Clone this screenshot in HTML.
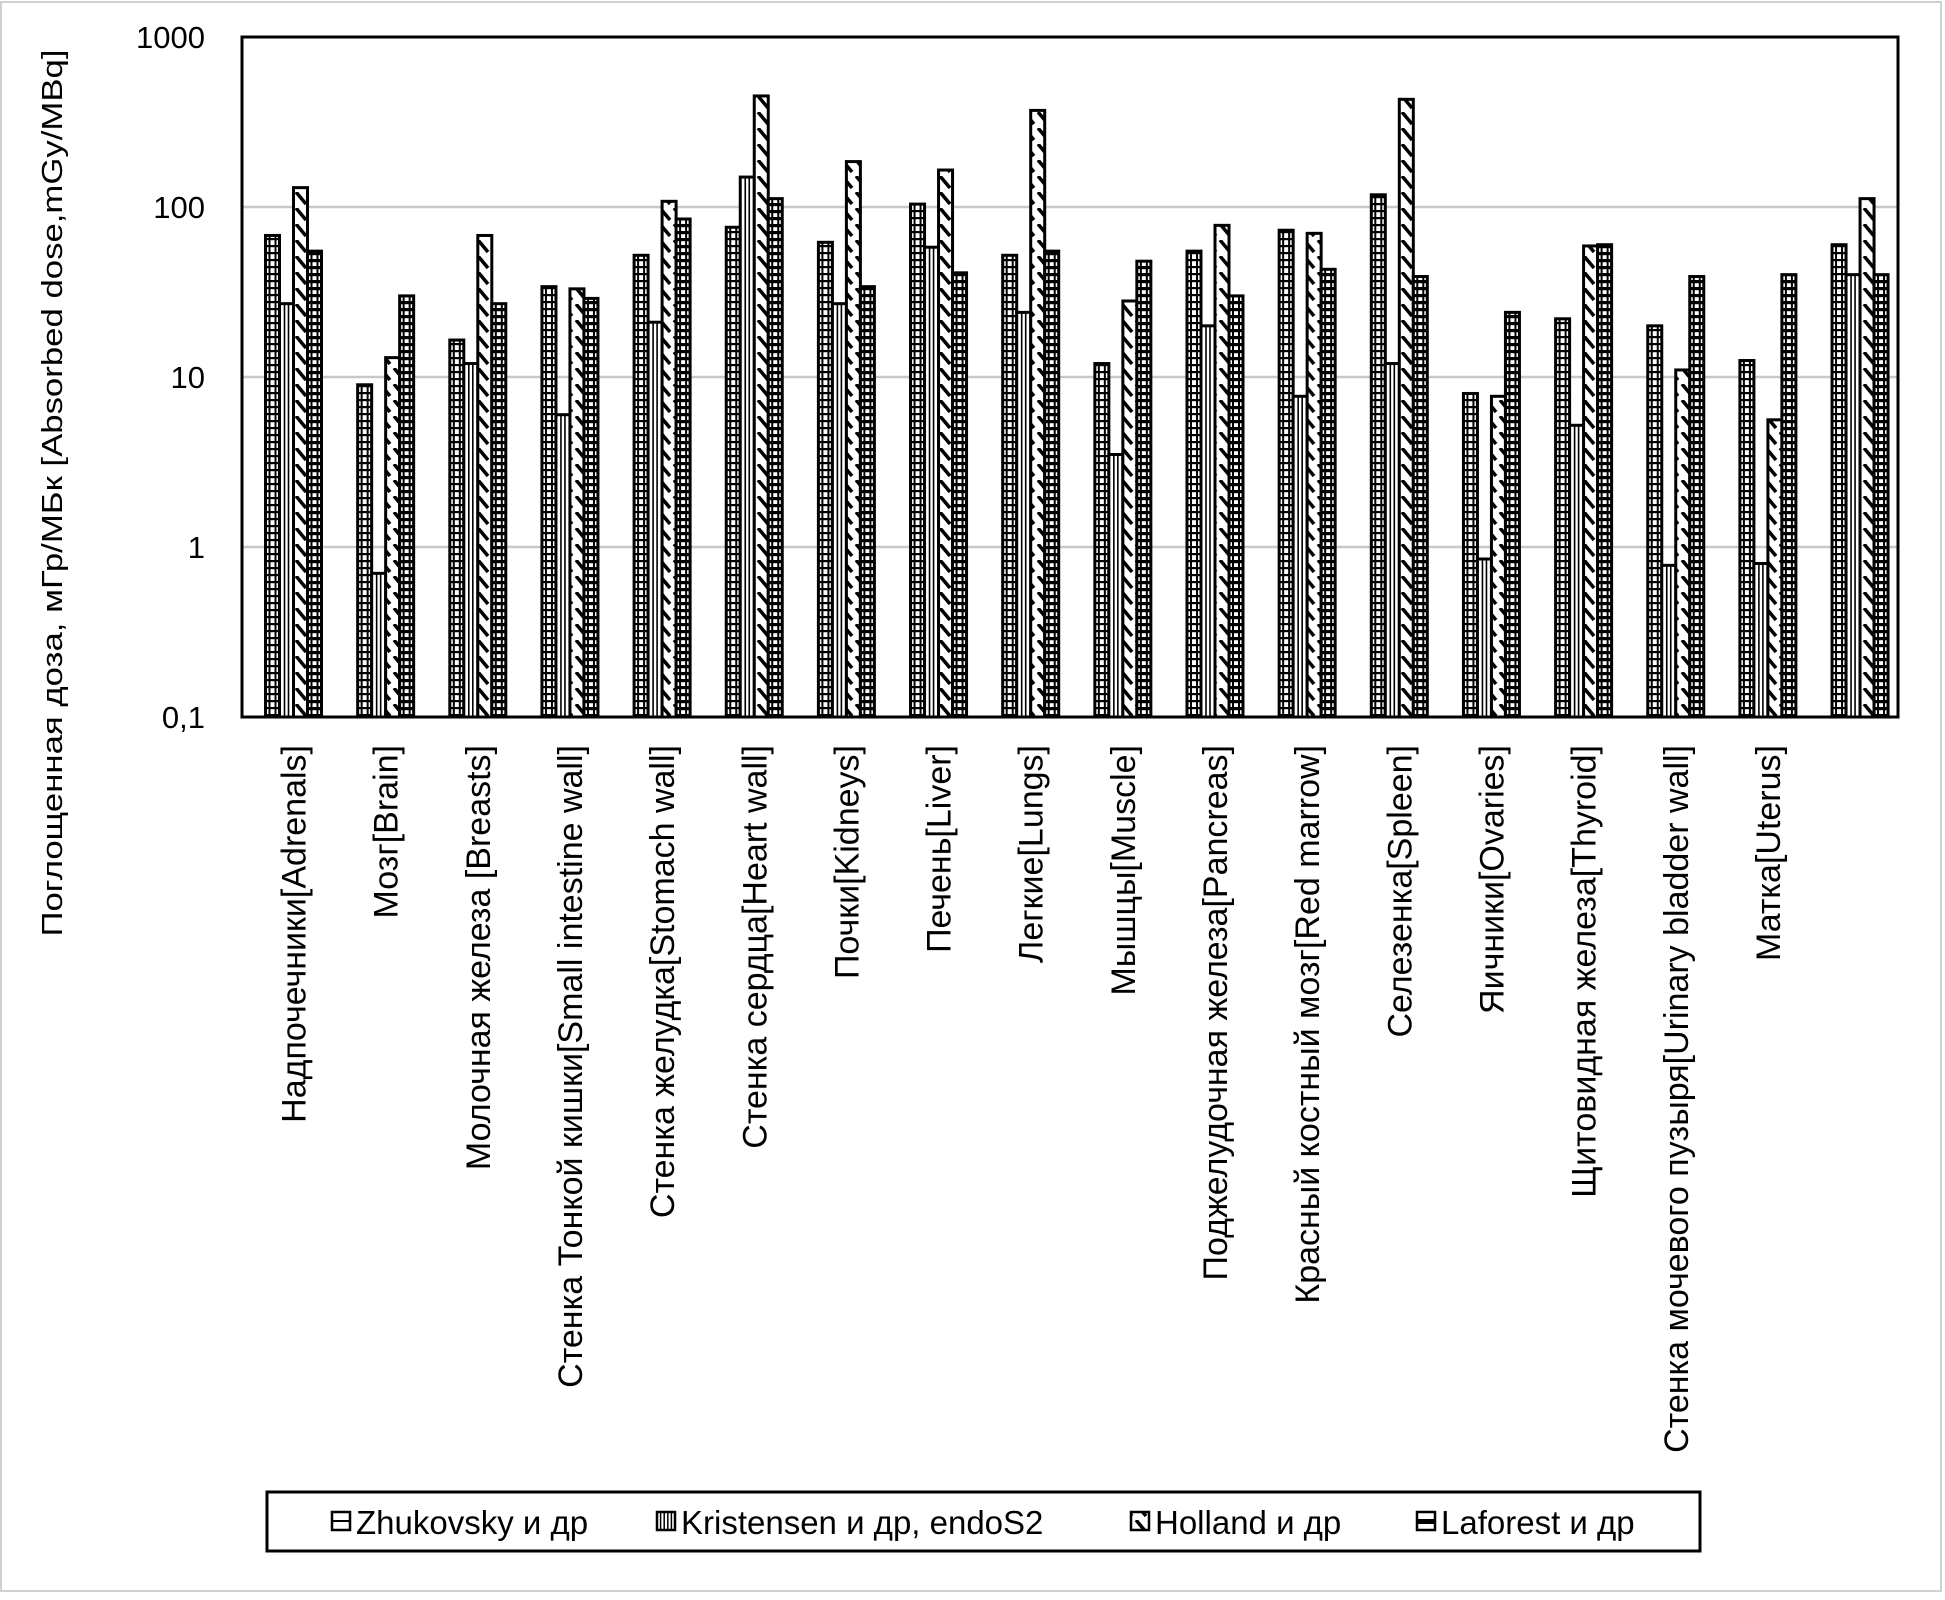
<!DOCTYPE html>
<html><head><meta charset="utf-8"><style>
html,body{margin:0;padding:0;background:#fff;}
svg{display:block;}
text{font-family:"Liberation Sans","DejaVu Sans",sans-serif;fill:#000;}
</style></head><body>
<svg id="chart" width="1945" height="1600" viewBox="0 0 1945 1600">
<defs>
<pattern id="p-horiz" patternUnits="userSpaceOnUse" width="20" height="7"><rect width="20" height="7" fill="#fff"/><rect y="0" width="20" height="2.2" fill="#000"/></pattern>
<pattern id="p-horiz-bold" patternUnits="userSpaceOnUse" width="20" height="7"><rect width="20" height="7" fill="#fff"/><rect y="0" width="20" height="3.2" fill="#000"/></pattern>
<pattern id="p-diag" patternUnits="userSpaceOnUse" width="14" height="16"><rect width="14" height="16" fill="#fff"/><path d="M2,0 L12,12" stroke="#000" stroke-width="3.5"/></pattern>
</defs>
<rect x="1" y="2" width="1940" height="1589" fill="#fff" stroke="#d0d0d0" stroke-width="2"/>
<g id="grid"></g>
<g id="bars"></g>
<rect x="242" y="37" width="1656" height="680" fill="none" stroke="#000" stroke-width="3"/>
<g id="yticks"></g>
<g id="xlabels"></g>
<text x="0" y="0" transform="translate(62,493) rotate(-90)" text-anchor="middle" font-size="29" textLength="887" lengthAdjust="spacingAndGlyphs">Поглощенная доза, мГр/МБк [Absorbed dose,mGy/MBq]</text>
<g>
<rect x="267" y="1492" width="1433" height="59" fill="#fff" stroke="#000" stroke-width="3"/>
<g id="legend-items"></g>
</g>
</svg>
<script>
const categories = ["Надпочечники[Adrenals]","Мозг[Brain]","Молочная железа [Breasts]","Стенка Тонкой кишки[Small intestine wall]","Стенка желудка[Stomach wall]","Стенка сердца[Heart wall]","Почки[Kidneys]","Печень[Liver]","Легкие[Lungs]","Мышцы[Muscle]","Поджелудочная железа[Pancreas]","Красный костный мозг[Red marrow]","Селезенка[Spleen]","Яичники[Ovaries]","Щитовидная железа[Thyroid]","Стенка мочевого пузыря[Urinary bladder wall]","Матка[Uterus]",""];
const seriesNames = ["Zhukovsky и др","Kristensen и др, endoS2","Holland и др","Laforest  и др"];
const zhukovsky = [68,9,16.5,34,52,76,62,104,52,12,55,73,118,8,22,20,12.5,60];
const kristensen = [27,0.7,12,6,21,150,27,58,24,3.5,20,7.7,12,0.85,5.2,0.78,0.8,40];
const holland = [130,13,68,33,108,450,185,165,370,28,78,70,430,7.7,59,11,5.6,112];
const laforest = [55,30,27,29,85,112,34,41,55,48,30,43,39,24,60,39,40,40];
const yTicks = [0.1,1,10,100,1000];
const yTickLabels = ["0,1","1","10","100","1000"];

const NS="http://www.w3.org/2000/svg";
const plotL=242, plotR=1898, plotT=37, plotB=717;
const firstCenter=293.5, step=92.15, barW=14;
function yScale(v){ return plotB - (Math.log10(v)+1)/4*(plotB-plotT); }
function xCenter(i){ return firstCenter + i*step; }
function mk(tag, attrs, parent){ const e=document.createElementNS(NS,tag); for(const k in attrs) e.setAttribute(k,attrs[k]); parent.appendChild(e); return e; }

const grid=document.getElementById('grid'), yt=document.getElementById('yticks');
yTicks.forEach((t,i)=>{
  const y=yScale(t);
  if(i>0 && i<yTicks.length-1){
    const l=mk('line',{x1:plotL,x2:plotR,y1:y,y2:y,stroke:'#c8c8c8','stroke-width':2.5},grid);
    
    
  }
  const tx=mk('text',{x:205,y:y+11,'text-anchor':'end','font-size':31,'font-family':'"DejaVu Sans",sans-serif'},yt);
  tx.textContent=yTickLabels[i];
  
  
});

const bars=document.getElementById('bars');
const allSeries=[zhukovsky,kristensen,holland,laforest];
function drawBar(s, x, top){
  const h=plotB-top;
  const fills=['url(#p-horiz)','#fff','url(#p-diag)','url(#p-horiz-bold)'];
  const g=mk('g',{},bars);
  
  
  mk('rect',{x:x,y:top,width:barW,height:h,fill:fills[s]},g);
  if(s===0||s===3){
    mk('line',{x1:x+4,x2:x+4,y1:top,y2:plotB,stroke:'#000','stroke-width':2},g);
    mk('line',{x1:x+barW-4,x2:x+barW-4,y1:top,y2:plotB,stroke:'#000','stroke-width':2},g);
  } else if(s===1){
    mk('line',{x1:x+5,x2:x+5,y1:top,y2:plotB,stroke:'#000','stroke-width':1.6},g);
    mk('line',{x1:x+9,x2:x+9,y1:top,y2:plotB,stroke:'#000','stroke-width':1.6},g);
  }
  mk('rect',{x:x,y:top,width:barW,height:h,fill:'none',stroke:'#000','stroke-width':3},g);
}
categories.forEach((c,i)=>{
  const cx=xCenter(i);
  allSeries.forEach((arr,s)=>{
    const x=cx-2*barW+s*barW;
    drawBar(s,x,yScale(arr[i]));
  });
});

const xl=document.getElementById('xlabels');
categories.forEach((c,i)=>{
  if(!c) return;
  const cx=xCenter(i)+12;
  const t=mk('text',{x:0,y:0,transform:'translate('+cx+',745) rotate(-90)','text-anchor':'end','font-size':34},xl);
  t.textContent=c;
  
  
});

const li=document.getElementById('legend-items');
const legendIconX=[332,657,1131,1417];
seriesNames.forEach((n,s)=>{
  const g=mk('g',{},li);
  
  
  const x=legendIconX[s], y=1512;
  const fills=['#fff','#fff','url(#p-diag)','#fff'];
  mk('rect',{x:x,y:y,width:18,height:18,fill:fills[s],stroke:'#000','stroke-width':2.5},g);
  if(s===0) mk('line',{x1:x,x2:x+18,y1:y+9,y2:y+9,stroke:'#000','stroke-width':2},g);
  if(s===3) mk('rect',{x:x,y:y+7,width:18,height:5,fill:'#000'},g);
  if(s===1){ for(let k=1;k<5;k++) mk('line',{x1:x+k*3.6,x2:x+k*3.6,y1:y,y2:y+18,stroke:'#000','stroke-width':1.5},g); }
  const t=mk('text',{x:x+24,y:1534,'font-size':33},g);
  t.textContent=n;
});
</script>
</body></html>
